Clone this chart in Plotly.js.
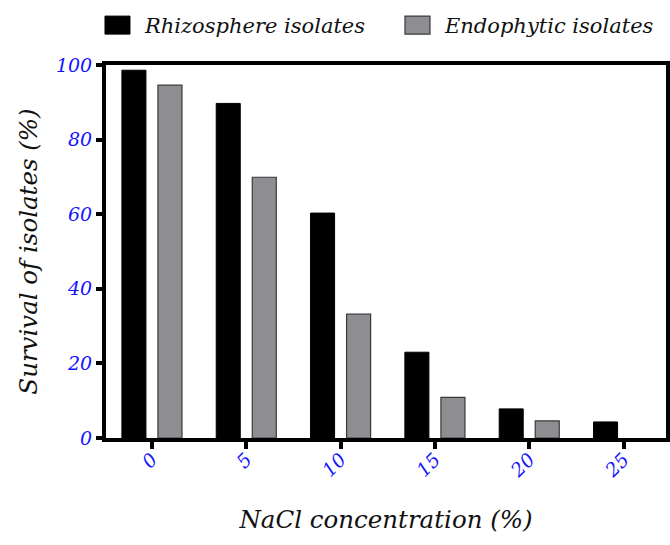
<!DOCTYPE html>
<html>
<head>
<meta charset="utf-8">
<script src="https://cdn.plot.ly/plotly-3.0.1.min.js"></script>
<style>html,body{margin:0;padding:0;background:#fff;}#chart{width:670px;height:545px;}</style>
</head>
<body>
<div id="chart"></div>
<script>
// ---- data ----
var categories = ['0', '5', '10', '15', '20', '25'];
var seriesNames = ['Rhizosphere isolates', 'Endophytic isolates'];
var rhizosphere = [98.6, 89.7, 60.3, 23.0, 7.8, 4.3];
var endophytic = [94.6, 69.9, 33.2, 10.9, 4.6, 0];
var yTicks = [0, 20, 40, 60, 80, 100];
var xTitle = 'NaCl concentration (%)';
var yTitle = 'Survival of isolates (%)';

var FONT = 'DejaVu Serif';
var BLUE = '#1414ff';

var traces = [
  {type: 'bar', name: seriesNames[0], x: categories, y: rhizosphere,
   marker: {color: '#000000', line: {color: '#000000', width: 1}}, hoverinfo: 'x+y'},
  {type: 'bar', name: seriesNames[1], x: categories, y: endophytic,
   marker: {color: '#8e8d92', line: {color: '#3a3a3a',
     width: endophytic.map(function (v) { return v > 0 ? 1.2 : 0; })}}, hoverinfo: 'x+y'}
];

var layout = {
  width: 670, height: 545,
  font: {family: FONT},
  margin: {l: 106, r: 4, t: 65, b: 107, autoexpand: false},
  paper_bgcolor: '#ffffff', plot_bgcolor: '#ffffff',
  barmode: 'group', bargap: 0.236, bargroupgap: 0.333,
  showlegend: true,
  legend: {orientation: 'h', x: -0.0286, xanchor: 'left', y: 1.161, yanchor: 'top',
           itemwidth: 45, entrywidth: 240, entrywidthmode: 'pixels',
           font: {family: FONT, size: 21, color: '#111', style: 'italic'},
           bgcolor: 'rgba(0,0,0,0)', borderwidth: 0, itemclick: false, itemdoubleclick: false},
  xaxis: {type: 'category', range: [-0.487, 5.45], fixedrange: true,
          showline: true, linecolor: '#000', linewidth: 4, mirror: true,
          ticks: 'outside', ticklen: 7, tickwidth: 4, tickcolor: '#000',
          tickangle: -45, ticklabelstandoff: -8, showgrid: false, zeroline: false,
          tickfont: {family: FONT, size: 19, color: BLUE, style: 'italic'},
          title: {text: xTitle, standoff: 31, font: {family: FONT, size: 24.5, color: '#111', style: 'italic'}}},
  yaxis: {range: [0, 100], tickvals: yTicks, ticktext: yTicks.map(String), fixedrange: true,
          showline: true, linecolor: '#000', linewidth: 4, mirror: true,
          ticks: 'outside', ticklen: 6, tickwidth: 4, tickcolor: '#000',
          showgrid: false, zeroline: false,
          tickfont: {family: FONT, size: 19, color: BLUE, style: 'italic'},
          title: {text: yTitle, standoff: 12, font: {family: FONT, size: 24.5, color: '#111', style: 'italic'}}}
};

function enlargeLegendSymbols() {
  var paths = document.querySelectorAll('#chart g.legendpoints path');
  paths.forEach(function (p) { p.setAttribute('d', 'M12.5,9H-12.5V-9H12.5Z'); });
}

Plotly.newPlot('chart', traces, layout, {displayModeBar: false}).then(function (gd) {
  enlargeLegendSymbols();
  setTimeout(enlargeLegendSymbols, 0);
  gd.on('plotly_afterplot', enlargeLegendSymbols);
});
</script>
</body>
</html>
